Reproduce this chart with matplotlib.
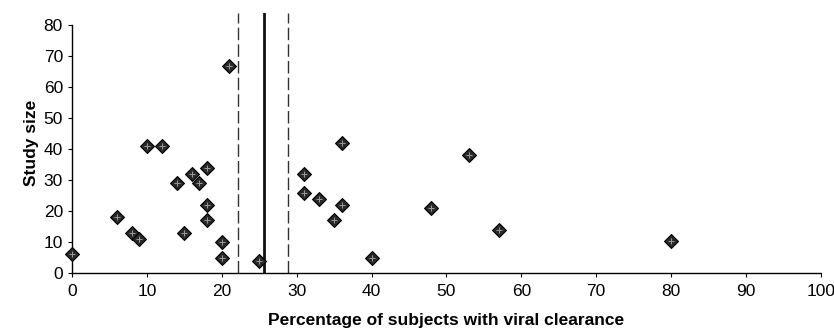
import matplotlib.pyplot as plt

plt.rcParams['font.family'] = ['Liberation Sans', 'DejaVu Sans']

# percentage of subjects with viral clearance, study size
pct = [0, 6, 8, 9, 10, 12, 14, 15, 16, 17, 18, 18, 18, 20, 20, 21, 25,
       31, 31, 33, 35, 36, 36, 40, 48, 53, 57, 80]
size = [6, 18, 13, 11, 41, 41, 29, 13, 32, 29, 34, 22, 17, 10, 5, 67, 4,
        32, 26, 24, 17, 42, 22, 5, 21, 38, 14, 10.5]

pooled = 25.6
ci_low = 22.2
ci_high = 28.8

fig = plt.figure(figsize=(8.34, 3.35), dpi=100)
ax = fig.add_axes([0.0863, 0.185, 0.898, 0.776])

ax.scatter(pct, size, marker='D', s=50, facecolor='#2a2a2a',
           edgecolor='black', linewidth=0.8, zorder=3, clip_on=False)
# light dots over the markers, like the printed texture
ax.scatter(pct, size, marker='+', s=14, color='#9a9a9a',
           linewidth=0.7, zorder=4, clip_on=False)

ax.axvline(pooled, color='#111111', lw=2.0, zorder=2)
ax.axvline(ci_low, color='#333333', lw=1.0, ls=(0, (9, 3)), zorder=2)
ax.axvline(ci_high, color='#333333', lw=1.0, ls=(0, (9, 3)), zorder=2)

ax.set_xlim(0, 100)
ax.set_ylim(0, 84)
ax.set_xticks(range(0, 101, 10))
ax.set_yticks(range(0, 81, 10))
ax.spines['top'].set_visible(False)
ax.spines['right'].set_visible(False)
for side in ['left', 'bottom']:
    ax.spines[side].set_linestyle((0, (2, 1)))
    ax.spines[side].set_linewidth(1.0)
ax.spines['left'].set_bounds(0, 80)
ax.tick_params(direction='out', length=3, width=0.8, labelsize=12.5)
ax.tick_params(axis='x', pad=5)

ax.set_xlabel('Percentage of subjects with viral clearance', fontsize=12.5,
              fontweight='bold', labelpad=10)
ax.set_ylabel('Study size', fontsize=12.5, fontweight='bold', labelpad=3)

plt.savefig('out.png', dpi=100)
